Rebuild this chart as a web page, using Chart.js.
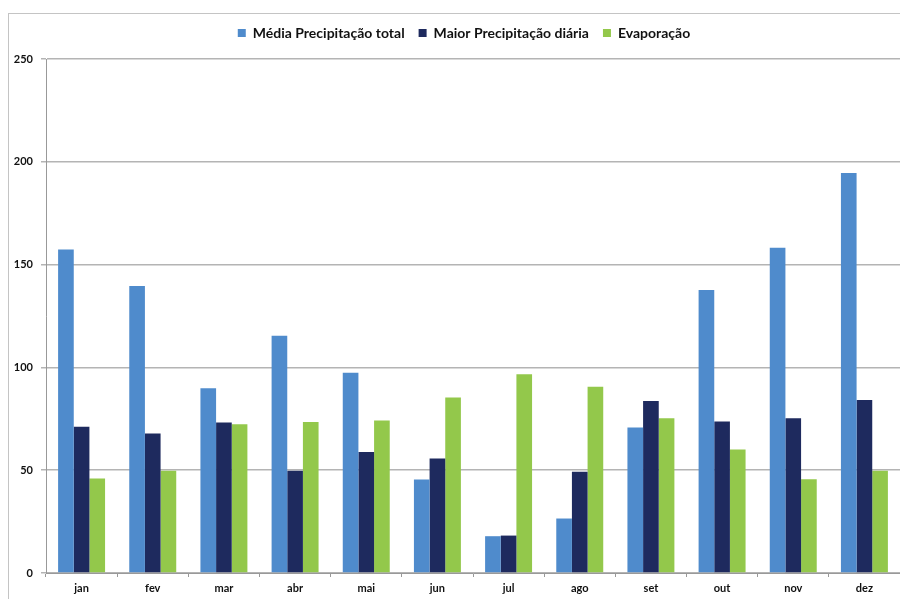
<!DOCTYPE html>
<html>

<head>
    <title>Precipitação e Evaporação</title>
    <meta charset="UTF-8">
    <script src="https://cdn.jsdelivr.net/npm/chart.js@4.4.1/dist/chart.umd.min.js"></script>
    <style>
        html, body { margin: 0; padding: 0; background: #fff; }
        #wrap { width: 900px; height: 599px; }
    </style>
</head>

<body>
    <div id="wrap"><canvas id="myChart" width="900" height="599"></canvas></div>

    <script>
        const meses = ['jan', 'fev', 'mar', 'abr', 'mai', 'jun', 'jul', 'ago', 'set', 'out', 'nov', 'dez'];
        const mediaPrecipitacao = [157.4, 139.6, 89.9, 115.4, 97.4, 45.5, 17.9, 26.5, 70.8, 137.6, 158.2, 194.6];
        const maiorPrecipitacao = [71.1, 67.9, 73.2, 49.7, 58.9, 55.7, 18.2, 49.2, 83.6, 73.7, 75.3, 84.1];
        const evaporacao = [46.0, 49.7, 72.4, 73.5, 74.2, 85.4, 96.7, 90.6, 75.3, 60.1, 45.6, 49.7];
        const yTicks = [0, 50, 100, 150, 200, 250];

        const fonte = 'Lato, "Open Sans", sans-serif';

        // thin frame around the whole chart, legend block kept at a fixed height
        const moldura = {
            id: 'moldura',
            beforeUpdate(chart) {
                const lg = chart.legend;
                if (lg && !lg._alturaFixa) {
                    const fit = lg.fit.bind(lg);
                    lg.fit = function () { fit(); this.height = 47; };
                    lg._alturaFixa = true;
                }
            },
            afterLayout(chart) {
                // legend sits a little right of the canvas centre
                chart.legend.left += 8;
                chart.legend.right += 8;
            },
            beforeDraw(chart) {
                const c = chart.ctx;
                c.save();
                c.fillStyle = '#ffffff';
                c.fillRect(0, 0, chart.width, chart.height);
                c.strokeStyle = '#c4c4c4';
                c.lineWidth = 1;
                c.strokeRect(8.5, 13.5, chart.width + 20, chart.height + 20);
                c.restore();
            }
        };

        const ctx = document.getElementById('myChart').getContext('2d');
        const chart = new Chart(ctx, {
            type: 'bar',
            data: {
                labels: meses,
                datasets: [{
                    label: 'Média Precipitação total',
                    backgroundColor: '#4f8bcc',
                    data: mediaPrecipitacao
                }, {
                    label: 'Maior Precipitação diária',
                    backgroundColor: '#1e2a5e',
                    data: maiorPrecipitacao
                }, {
                    label: 'Evaporação',
                    backgroundColor: '#93c84b',
                    data: evaporacao
                }]
            },
            options: {
                responsive: false,
                animation: false,
                devicePixelRatio: 1,
                layout: { padding: { left: 12, right: 0, top: 12, bottom: 4 } },
                datasets: {
                    bar: { categoryPercentage: 0.66, barPercentage: 1.0 }
                },
                plugins: {
                    legend: {
                        position: 'top',
                        labels: {
                            boxWidth: 8,
                            boxHeight: 8,
                            padding: 14,
                            color: '#111',
                            font: { family: fonte, size: 14, weight: 'bold' }
                        }
                    },
                    tooltip: { enabled: false }
                },
                scales: {
                    x: {
                        grid: {
                            offset: true,
                            drawOnChartArea: false,
                            drawTicks: true,
                            tickLength: 4,
                            color: '#999'
                        },
                        border: { color: '#999', width: 1 },
                        ticks: {
                            color: '#111',
                            padding: 5,
                            font: { family: fonte, size: 11, weight: 'bold' }
                        },
                        afterFit(s) { s.height = 22; }
                    },
                    y: {
                        min: 0,
                        max: 250,
                        afterBuildTicks(s) { s.ticks = yTicks.map(v => ({ value: v })); },
                        grid: {
                            color: '#b4b4b4',
                            lineWidth: 1.5,
                            tickLength: 5
                        },
                        border: { color: '#999', width: 1 },
                        ticks: {
                            color: '#111',
                            padding: 8,
                            font: { family: fonte, size: 11, weight: 'bold' }
                        },
                        afterFit(s) { s.width = 34; }
                    }
                }
            },
            plugins: [moldura]
        });
    </script>

</body>

</html>
